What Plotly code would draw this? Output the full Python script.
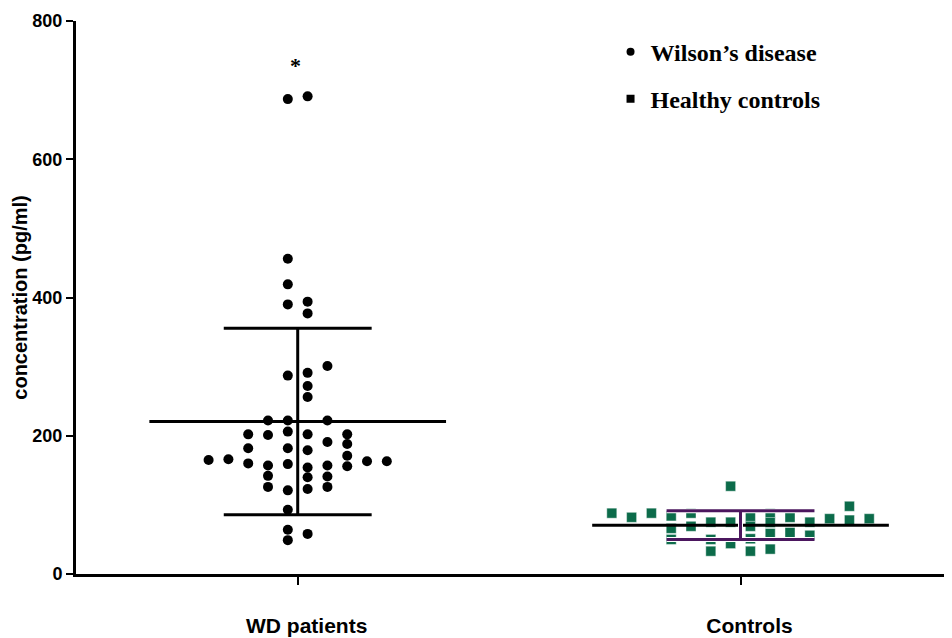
import numpy as np
import plotly.graph_objects as go

# ---------------- data ----------------
categories = ["WD patients", "Controls"]

wd_values = [687, 691, 456, 419, 390, 394, 377, 287, 291, 272, 256, 301,
             222, 222, 222, 206, 202, 201, 202, 202, 191, 188, 182, 182,
             179, 171, 165, 166, 163, 163, 160, 157, 159, 157, 156, 154,
             142, 140, 141, 126, 123, 126, 121, 93, 64, 58, 49]
# beeswarm column index of each WD point (odd numbers, left to right)
wd_slots = [-1, 1, -1, -1, -1, 1, 1, -1, 1, 1, 1, 3,
            -3, -1, 3, -1, -5, -3, 1, 5, 3, 5, -5, -1,
            1, 5, -9, -7, 7, 9, -5, -3, -1, 3, 5, 1,
            -3, 1, 3, -3, 1, 3, -1, -1, -1, 1, -1]

ctrl_values = [88, 82, 88, 84, 66, 50, 88, 69, 75, 50, 33, 127,
               75, 44, 83, 69, 51, 33, 88, 74.5, 58.6, 36, 82, 60,
               75, 56, 80, 98, 78, 80]
ctrl_slots = [-13, -11, -9, -7, -7, -7, -5, -5, -3, -3, -3, -1,
              -1, -1, 1, 1, 1, 1, 3, 3, 3, 3, 5, 5,
              7, 7, 9, 11, 11, 13]

y_ticks = [0, 200, 400, 600, 800]
y_title = "concentration (pg/ml)"
legend_labels = ["Wilson\u2019s disease", "Healthy controls"]
significance_mark = "*"
significance_level = 735

# ---------------- styling ----------------
SLOT = 0.02236          # horizontal spacing of one swarm half-column (category units)
MEAN_HW = 0.335         # half width of the mean line
SD_HW = 0.167           # half width of the SD caps
GREEN = "#0c6b4a"
PURPLE = "#4b165e"
SANS = "Liberation Sans, Arial, sans-serif"
SERIF = "Liberation Serif, Times New Roman, serif"

wd = np.array(wd_values, dtype=float)
ct = np.array(ctrl_values, dtype=float)
wd_x = 0 + np.array(wd_slots) * SLOT
ct_x = 1 + np.array(ctrl_slots) * SLOT


def mean_sd_paths(c, vals):
    m = float(np.mean(vals))
    s = float(np.std(vals, ddof=1))
    mean_x = [c - MEAN_HW, c + MEAN_HW]
    mean_y = [m, m]
    sd_x = [c - SD_HW, c + SD_HW, None, c, c, None, c - SD_HW, c + SD_HW]
    sd_y = [m + s, m + s, None, m - s, m + s, None, m - s, m - s]
    return mean_x, mean_y, sd_x, sd_y


fig = go.Figure()

# points
fig.add_trace(go.Scatter(x=wd_x, y=wd, mode="markers",
                         marker=dict(symbol="circle", size=10, color="black",
                                     line=dict(width=0)),
                         showlegend=False, hoverinfo="skip"))
fig.add_trace(go.Scatter(x=ct_x, y=ct, mode="markers",
                         marker=dict(symbol="square", size=10, color=GREEN,
                                     line=dict(width=0.6, color="rgba(255,255,255,0.7)")),
                         showlegend=False, hoverinfo="skip"))

# WD mean +/- SD (black)
mx, my, sx, sy = mean_sd_paths(0, wd)
fig.add_trace(go.Scatter(x=mx, y=my, mode="lines", line=dict(color="black", width=3),
                         showlegend=False, hoverinfo="skip"))
fig.add_trace(go.Scatter(x=sx, y=sy, mode="lines", line=dict(color="black", width=3),
                         showlegend=False, hoverinfo="skip"))

# Controls mean (black) +/- SD (purple)
mx, my, sx, sy = mean_sd_paths(1, ct)
fig.add_trace(go.Scatter(x=mx, y=my, mode="lines", line=dict(color="black", width=3),
                         showlegend=False, hoverinfo="skip"))
fig.add_trace(go.Scatter(x=sx, y=sy, mode="lines", line=dict(color="white", width=5),
                         showlegend=False, hoverinfo="skip"))
fig.add_trace(go.Scatter(x=sx, y=sy, mode="lines", line=dict(color=PURPLE, width=3),
                         showlegend=False, hoverinfo="skip"))

# legend entries
fig.add_trace(go.Scatter(x=[None], y=[None], mode="markers", name=legend_labels[0],
                         legendgroup="wd",
                         marker=dict(symbol="circle", size=8, color="black")))
fig.add_trace(go.Scatter(x=[None], y=[None], mode="markers", name=legend_labels[1],
                         legendgroup="hc",
                         marker=dict(symbol="square", size=8, color="black")))

fig.add_annotation(x=0, y=significance_level, xref="x", yref="y",
                   text=significance_mark, showarrow=False, xshift=-2,
                   font=dict(family=SERIF, size=22, color="black", weight="bold"))

# The page body adds an 8 px margin; the figure is offset by it and sized so
# that it reaches the right and bottom edges of the 952 x 638 window.
fig.update_layout(
    width=944, height=630,
    margin=dict(l=68, r=0, t=13, b=63.5),
    plot_bgcolor="white", paper_bgcolor="white",
    showlegend=True,
    legend=dict(x=0.6102, y=0.9845, xanchor="left", yanchor="top",
                bgcolor="rgba(0,0,0,0)", tracegroupgap=13,
                font=dict(family=SERIF, size=24, color="black", weight="bold")),
    xaxis=dict(range=[-0.5007, 1.4776], tickvals=[0, 1], ticktext=categories,
               automargin=False,
               showline=True, linecolor="black", linewidth=3,
               ticks="outside", ticklen=8, tickwidth=2, tickcolor="black",
               showgrid=False, zeroline=False,
               ticklabelstandoff=23, ticklabelshift=9,
               tickfont=dict(family=SANS, size=21, color="black", weight="bold")),
    yaxis=dict(range=[0, 800], tickvals=y_ticks, automargin=False,
               showline=True, linecolor="black", linewidth=3,
               ticks="outside", ticklen=7, tickwidth=2, tickcolor="black",
               showgrid=False, zeroline=False,
               tickfont=dict(family=SANS, size=18, color="black", weight="bold"),
               title=dict(text=y_title, standoff=0,
                          font=dict(family=SANS, size=20, color="black", weight="bold"))),
)

fig.write_html("out.html")
